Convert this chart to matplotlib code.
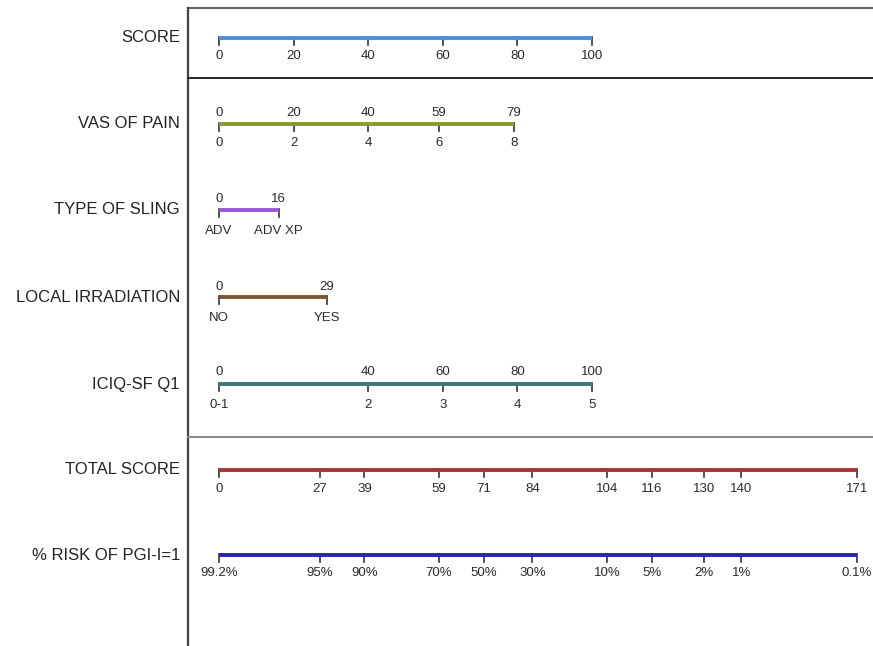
import matplotlib
matplotlib.use("Agg")
import matplotlib.pyplot as plt

plt.rcParams['font.family'] = ['Liberation Sans', 'DejaVu Sans']

# Points scale (0-100) shared by every predictor
score_ticks = [0, 20, 40, 60, 80, 100]

vas_values = ["0", "2", "4", "6", "8"]
vas_points = [0, 20, 40, 59, 79]

sling_values = ["ADV", "ADV XP"]
sling_points = [0, 16]

irradiation_values = ["NO", "YES"]
irradiation_points = [0, 29]

iciq_values = ["0-1", "2", "3", "4", "5"]
iciq_points = [0, 40, 60, 80, 100]

total_ticks = [0, 27, 39, 59, 71, 84, 104, 116, 130, 140, 171]
risk_labels = ["99.2%", "95%", "90%", "70%", "50%", "30%",
               "10%", "5%", "2%", "1%", "0.1%"]

row_names = ["SCORE", "VAS OF PAIN", "TYPE OF SLING", "LOCAL IRRADIATION",
             "ICIQ-SF Q1", "TOTAL SCORE", "% RISK OF PGI-I=1"]

W, H = 873, 646
fig = plt.figure(figsize=(W / 100, H / 100), dpi=100)
ax = fig.add_axes([0, 0, 1, 1])

# x in points: 0 points at pixel 219, 3.73 px per point
px0, ppp = 219.0, 3.73
ax.set_xlim(-px0 / ppp, (W - px0) / ppp)
ax.set_ylim(H, 0)
ax.axis("off")

def px(xpix):
    return (xpix - px0) / ppp

TICK = 7
FS = 9.5
tick_color = "#333333"

def scale(y, pts, color, upper=None, lower=None, up_off=11, low_off=19):
    ax.plot([min(pts), max(pts)], [y, y], color=color, lw=2.8,
            solid_capstyle="butt", zorder=3)
    for p in pts:
        ax.plot([p, p], [y - 1, y + TICK], color=tick_color, lw=1.2, zorder=2)
    if upper is not None:
        for p, s in zip(pts, upper):
            ax.text(p, y - up_off, s, ha="center", va="center",
                    fontsize=FS, color="#2a2a2a")
    if lower is not None:
        for p, s in zip(pts, lower):
            ax.text(p, y + low_off, s, ha="center", va="center",
                    fontsize=FS, color="#2a2a2a")

row_y = [38, 124, 210, 297, 384, 470, 555]

# frame lines
ax.plot([px(188), px(188)], [8, H], color="#444444", lw=1.6)
ax.plot([px(188), px(W)], [8, 8], color="#444444", lw=1.2)
ax.plot([px(188), px(W)], [78, 78], color="#222222", lw=1.4)
ax.plot([px(188), px(W)], [437, 437], color="#888888", lw=1.4)

# row labels
for name, y in zip(row_names, row_y):
    ax.text(px(180), y, name, ha="right", va="center",
            fontsize=12, color="#222222")

scale(row_y[0], score_ticks, "#4a8ede",
      lower=[str(v) for v in score_ticks], low_off=18)
scale(row_y[1], vas_points, "#8c9a2c",
      upper=[str(v) for v in vas_points], lower=vas_values)
scale(row_y[2], sling_points, "#9b55db",
      upper=[str(v) for v in sling_points], lower=sling_values, low_off=21)
scale(row_y[3], irradiation_points, "#7a5530",
      upper=[str(v) for v in irradiation_points], lower=irradiation_values, up_off=10, low_off=21)
scale(row_y[4], iciq_points, "#3b7a74",
      upper=[str(v) for v in iciq_points], lower=iciq_values, up_off=12, low_off=21)
scale(row_y[5], total_ticks, "#a83236",
      lower=[str(v) for v in total_ticks], low_off=19)
scale(row_y[6], total_ticks, "#2424b8",
      lower=risk_labels, low_off=18)

fig.savefig("out.png", dpi=100, facecolor="white")
